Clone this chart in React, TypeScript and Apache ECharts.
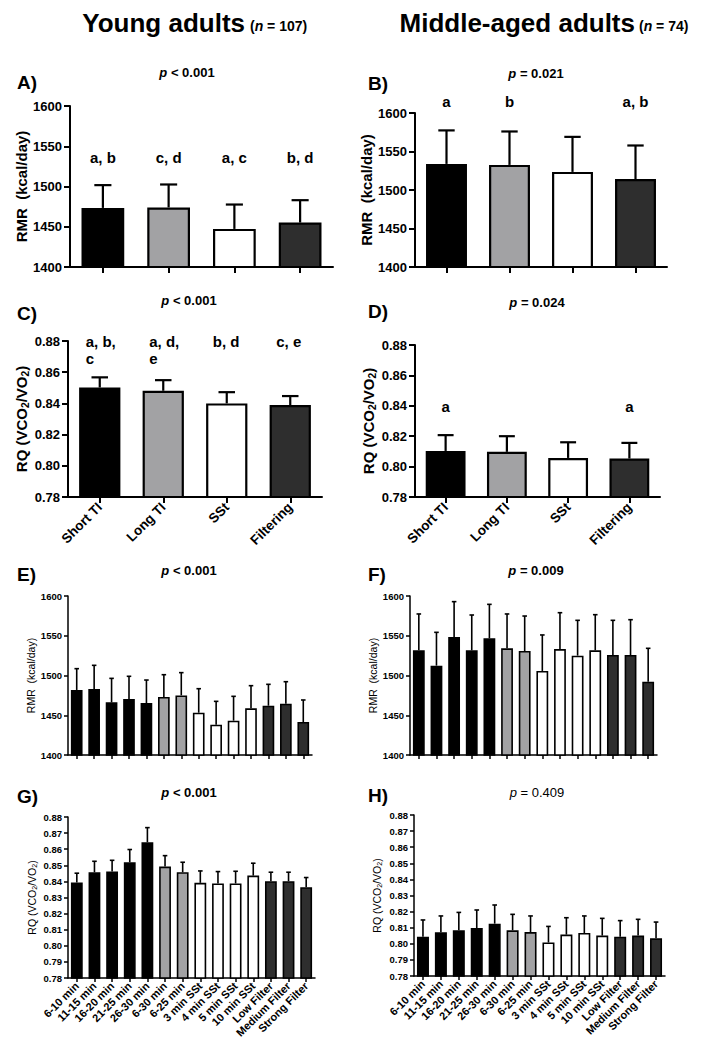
import React, { useEffect, useRef } from 'react';
import * as echarts from 'echarts';

const FONT = '"Liberation Sans", Arial, Helvetica, sans-serif';

// ---------- categories ----------
const mainCategories = ['Short TI', 'Long TI', 'SSt', 'Filtering'];
const detailCategories = [
  '6-10 min', '11-15 min', '16-20 min', '21-25 min', '26-30 min', '6-30 min', '6-25 min',
  '3 min SSt', '4 min SSt', '5 min SSt', '10 min SSt', 'Low Filter', 'Medium Filter', 'Strong Filter',
];

// ---------- A) RMR young ----------
const rmrYoungMean = [1473.4, 1474.0, 1447.3, 1455.2];
const rmrYoungSD = [28.3, 28.5, 30.3, 27.8];
// ---------- B) RMR middle-aged ----------
const rmrMiddleMean = [1533.9, 1532.6, 1523.5, 1514.3];
const rmrMiddleSD = [43.5, 43.4, 45.5, 43.5];
// ---------- C) RQ young ----------
const rqYoungMean = [0.8502, 0.8481, 0.84, 0.8389];
const rqYoungSD = [0.0065, 0.0068, 0.0072, 0.0058];
// ---------- D) RQ middle-aged ----------
const rqMiddleMean = [0.8103, 0.8097, 0.8057, 0.8053];
const rqMiddleSD = [0.0104, 0.0103, 0.0103, 0.0103];
// ---------- E) RMR young, detailed ----------
const rmrYoungDetailMean = [1481.8, 1483.0, 1466.2, 1470.4, 1465.4, 1473.0, 1475.0, 1453.2, 1438.2, 1443.2, 1458.7, 1462.0, 1464.6, 1441.5];
const rmrYoungDetailSD = [26.8, 29.8, 30.2, 28.6, 28.9, 28.0, 28.6, 30.2, 29.3, 30.6, 28.5, 26.9, 27.6, 27.7];
// ---------- F) RMR middle-aged, detailed ----------
const rmrMiddleDetailMean = [1531.7, 1512.4, 1548.4, 1531.7, 1546.8, 1534.2, 1530.8, 1505.7, 1533.3, 1525.0, 1531.7, 1525.8, 1525.8, 1492.2];
const rmrMiddleDetailSD = [45.7, 41.9, 44.5, 44.4, 42.7, 43.2, 44.0, 45.3, 45.7, 44.4, 44.8, 43.6, 44.4, 42.0];
// ---------- G) RQ young, detailed ----------
const rqYoungDetailMean = [0.8393, 0.8457, 0.8461, 0.8519, 0.8643, 0.8492, 0.8457, 0.8391, 0.8387, 0.8387, 0.8436, 0.8401, 0.8401, 0.8364];
const rqYoungDetailSD = [0.0058, 0.0068, 0.007, 0.0079, 0.0091, 0.0068, 0.0062, 0.0074, 0.0074, 0.0076, 0.0077, 0.0056, 0.0056, 0.006];
// ---------- H) RQ middle-aged, detailed ----------
const rqMiddleDetailMean = [0.8044, 0.8071, 0.8084, 0.8098, 0.8125, 0.8084, 0.8073, 0.8008, 0.8057, 0.8067, 0.8051, 0.8044, 0.8051, 0.8034];
const rqMiddleDetailSD = [0.0104, 0.0102, 0.0111, 0.0112, 0.0116, 0.0099, 0.01, 0.01, 0.0105, 0.0106, 0.0107, 0.01, 0.0101, 0.0101];

// ---------- significance letters ----------
const lettersA = ['a, b', 'c, d', 'a, c', 'b, d'];
const lettersB = ['a', 'b', '', 'a, b'];
const lettersC = ['a, b,\nc', 'a, d,\ne', 'b, d', 'c, e'];
const lettersD = ['a', '', '', 'a'];

// ---------- p values ----------
const pTexts = ['< 0.001', '= 0.021', '< 0.001', '= 0.024', '< 0.001', '= 0.009', '< 0.001', '= 0.409'];
const panelTags = ['A)', 'B)', 'C)', 'D)', 'E)', 'F)', 'G)', 'H)'];

// ---------- styles ----------
const BLACK = '#000000';
const GRAY = '#a2a2a4';
const WHITE = '#ffffff';
const DARK = '#2e2e2e';
const mainColors = [BLACK, GRAY, WHITE, DARK];
const detailColors = [BLACK, BLACK, BLACK, BLACK, BLACK, GRAY, GRAY, WHITE, WHITE, WHITE, WHITE, DARK, DARK, DARK];

const RMR_NAME = 'RMR  (kcal/day)';
const RQ_NAME = 'RQ (VCO{s|2}/VO{s|2})';

type Panel = {
  big: boolean;
  grid: { left: number; top: number; width: number; height: number };
  cats: string[];
  mean: number[];
  sd: number[];
  colors: string[];
  min: number;
  max: number;
  step: number;
  dec: number;
  yName: string;
  nameGap: number;
  xLabels: boolean;
  letters?: string[];
  letterY?: number;
  multiLine?: boolean;
  tag: [number, number];
  p: [number, number];
  pBold: boolean;
};

const panels: Panel[] = [
  { big: true, grid: { left: 70, top: 106, width: 263, height: 161 }, cats: mainCategories, mean: rmrYoungMean, sd: rmrYoungSD, colors: mainColors, min: 1400, max: 1600, step: 50, dec: 0, yName: RMR_NAME, nameGap: 37, xLabels: false, letters: lettersA, letterY: 1536.5, tag: [17, 82], p: [187, 72], pBold: true },
  { big: true, grid: { left: 415, top: 113, width: 252, height: 154 }, cats: mainCategories, mean: rmrMiddleMean, sd: rmrMiddleSD, colors: mainColors, min: 1400, max: 1600, step: 50, dec: 0, yName: RMR_NAME, nameGap: 33, xLabels: false, letters: lettersB, letterY: 1615, tag: [368, 83], p: [536, 73], pBold: true },
  { big: true, grid: { left: 68, top: 341, width: 254, height: 156 }, cats: mainCategories, mean: rqYoungMean, sd: rqYoungSD, colors: mainColors, min: 0.78, max: 0.88, step: 0.02, dec: 2, yName: RQ_NAME, nameGap: 35, xLabels: true, letters: lettersC, letterY: 0.88, multiLine: true, tag: [17, 313], p: [189, 300], pBold: true },
  { big: true, grid: { left: 415, top: 345, width: 245, height: 152 }, cats: mainCategories, mean: rqMiddleMean, sd: rqMiddleSD, colors: mainColors, min: 0.78, max: 0.88, step: 0.02, dec: 2, yName: RQ_NAME, nameGap: 33, xLabels: true, letters: lettersD, letterY: 0.8393, tag: [368, 311], p: [537, 302], pBold: true },
  { big: false, grid: { left: 68, top: 596, width: 244, height: 159 }, cats: detailCategories, mean: rmrYoungDetailMean, sd: rmrYoungDetailSD, colors: detailColors, min: 1400, max: 1600, step: 50, dec: 0, yName: RMR_NAME, nameGap: 31, xLabels: false, tag: [17, 574], p: [189, 570], pBold: true },
  { big: false, grid: { left: 410, top: 596, width: 247, height: 159 }, cats: detailCategories, mean: rmrMiddleDetailMean, sd: rmrMiddleDetailSD, colors: detailColors, min: 1400, max: 1600, step: 50, dec: 0, yName: RMR_NAME, nameGap: 30, xLabels: false, tag: [368, 574], p: [536, 570], pBold: true },
  { big: false, grid: { left: 68, top: 817, width: 247, height: 161 }, cats: detailCategories, mean: rqYoungDetailMean, sd: rqYoungDetailSD, colors: detailColors, min: 0.78, max: 0.88, step: 0.01, dec: 2, yName: RQ_NAME, nameGap: 30, xLabels: true, tag: [17, 796], p: [189, 792], pBold: true },
  { big: false, grid: { left: 414, top: 815, width: 251, height: 161 }, cats: detailCategories, mean: rqMiddleDetailMean, sd: rqMiddleDetailSD, colors: detailColors, min: 0.78, max: 0.88, step: 0.01, dec: 2, yName: RQ_NAME, nameGap: 31, xLabels: true, tag: [368, 795], p: [537, 792], pBold: false },
];

function makeErrorRender(capFrac: number, lw: number) {
  return (params: any, api: any) => {
    const idx = api.value(0);
    const p0 = api.coord([idx, api.value(1)]);
    const p1 = api.coord([idx, api.value(2)]);
    const half = api.size([1, 0])[0] * capFrac;
    return {
      type: 'group',
      children: [
        { type: 'line', shape: { x1: p0[0], y1: p0[1], x2: p1[0], y2: p1[1] }, style: { stroke: '#000', lineWidth: lw } },
        { type: 'line', shape: { x1: p1[0] - half, y1: p1[1], x2: p1[0] + half, y2: p1[1] }, style: { stroke: '#000', lineWidth: lw } },
      ],
    };
  };
}

function buildOption() {
  const grid: any[] = [];
  const xAxis: any[] = [];
  const yAxis: any[] = [];
  const series: any[] = [];
  const graphic: any[] = [];

  panels.forEach((pn, i) => {
    const lw = pn.big ? 2 : 1.5;
    const tickFont = pn.big ? 13 : 9.5;
    const nameFont = pn.big ? 15 : 10.5;
    grid.push({ ...pn.grid, containLabel: false, outerBoundsMode: 'none' });
    xAxis.push({
      gridIndex: i,
      type: 'category',
      data: pn.cats,
      axisLine: { show: true, lineStyle: { color: '#000', width: lw } },
      axisTick: { show: true, alignWithLabel: true, length: pn.big ? 6 : 4, lineStyle: { color: '#000', width: lw } },
      axisLabel: {
        show: pn.xLabels,
        interval: 0,
        rotate: 45,
        margin: pn.big ? 8 : 6,
        color: '#000',
        fontFamily: FONT,
        fontWeight: 'bold',
        fontSize: pn.big ? 13.5 : 11,
      },
      splitLine: { show: false },
    });
    yAxis.push({
      gridIndex: i,
      type: 'value',
      min: pn.min,
      max: pn.max,
      interval: pn.step,
      axisLine: { show: true, lineStyle: { color: '#000', width: lw } },
      axisTick: { show: true, length: pn.big ? 6 : 4, lineStyle: { color: '#000', width: lw } },
      axisLabel: {
        color: '#000',
        fontFamily: FONT,
        fontWeight: 'bold',
        fontSize: tickFont,
        margin: pn.big ? 8 : 6,
        formatter: (v: number) => v.toFixed(pn.dec),
      },
      splitLine: { show: false },
      name: pn.yName,
      nameLocation: 'middle',
      nameRotate: 90,
      nameGap: pn.nameGap,
      nameTextStyle: {
        color: '#000',
        fontFamily: FONT,
        fontWeight: pn.big ? 'bold' : 'normal',
        fontSize: nameFont,
        rich: {
          s: {
            color: '#000',
            fontFamily: FONT,
            fontWeight: pn.big ? 'bold' : 'normal',
            fontSize: nameFont * 0.68,
            padding: [nameFont * 0.55, 0, 0, 0],
          },
        },
      },
    });
    series.push({
      type: 'bar',
      xAxisIndex: i,
      yAxisIndex: i,
      barCategoryGap: pn.big ? '35%' : '33%',
      data: pn.mean.map((v, j) => ({ value: v, itemStyle: { color: pn.colors[j] } })),
      itemStyle: { borderColor: '#000', borderWidth: pn.big ? 2.2 : 1.6 },
      z: 3,
      silent: true,
    });
    series.push({
      type: 'custom',
      xAxisIndex: i,
      yAxisIndex: i,
      data: pn.mean.map((v, j) => [j, v, v + pn.sd[j]]),
      renderItem: makeErrorRender(0.13, pn.big ? 2.2 : 1.6),
      z: 2,
      silent: true,
    });
    if (pn.letters) {
      const letters = pn.letters;
      series.push({
        type: 'scatter',
        xAxisIndex: i,
        yAxisIndex: i,
        symbolSize: 0,
        clip: false,
        silent: true,
        itemStyle: { color: '#000', opacity: 1 },
        data: letters
          .map((t, j) => ({ value: [j, pn.letterY], txt: t }))
          .filter((d) => d.txt !== ''),
        label: {
          show: true,
          position: 'inside',
          formatter: (p: any) => p.data.txt,
          color: '#000',
          opacity: 1,
          textBorderWidth: 0,
          fontFamily: FONT,
          fontWeight: 'bold',
          fontSize: 15,
          lineHeight: 17,
          ...(pn.multiLine ? { align: 'left', verticalAlign: 'top', offset: [-14, -8] } : {}),
        },
        emphasis: { disabled: true },
        z: 5,
      });
    }
    graphic.push({
      type: 'text',
      x: pn.tag[0],
      y: pn.tag[1],
      style: { text: panelTags[i], fontFamily: FONT, fontWeight: 'bold', fontSize: 19, fill: '#000', align: 'left', verticalAlign: 'middle' },
    });
    const pw = pn.pBold ? 'bold' : 'normal';
    graphic.push({
      type: 'text',
      x: pn.p[0],
      y: pn.p[1],
      style: {
        text: '{i|p} ' + pTexts[i],
        fontFamily: FONT,
        fontWeight: pw,
        fontSize: 13,
        fill: '#000',
        align: 'center',
        verticalAlign: 'middle',
        rich: { i: { fontFamily: FONT, fontWeight: pw, fontStyle: 'italic', fontSize: 13, fill: '#000' } },
      },
    });
  });

  // column titles
  graphic.push(
    { type: 'text', x: 245, y: 23, style: { text: 'Young adults', fontFamily: FONT, fontWeight: 'bold', fontSize: 26, fill: '#000', align: 'right', verticalAlign: 'middle' } },
    { type: 'text', x: 250, y: 26, style: { text: '({i|n} = 107)', fontFamily: FONT, fontWeight: 'bold', fontSize: 14, fill: '#000', align: 'left', verticalAlign: 'middle', rich: { i: { fontFamily: FONT, fontWeight: 'bold', fontStyle: 'italic', fontSize: 14, fill: '#000' } } } },
    { type: 'text', x: 635, y: 23, style: { text: 'Middle-aged adults', fontFamily: FONT, fontWeight: 'bold', fontSize: 26, fill: '#000', align: 'right', verticalAlign: 'middle' } },
    { type: 'text', x: 639, y: 26, style: { text: '({i|n} = 74)', fontFamily: FONT, fontWeight: 'bold', fontSize: 14, fill: '#000', align: 'left', verticalAlign: 'middle', rich: { i: { fontFamily: FONT, fontWeight: 'bold', fontStyle: 'italic', fontSize: 14, fill: '#000' } } } },
  );

  return {
    animation: false,
    backgroundColor: '#ffffff',
    textStyle: { fontFamily: FONT },
    grid,
    xAxis,
    yAxis,
    series,
    graphic,
  };
}

export default function App() {
  const ref = useRef<HTMLDivElement>(null);
  useEffect(() => {
    if (!ref.current) return;
    const chart = echarts.init(ref.current, null, { renderer: 'svg' });
    chart.setOption(buildOption() as any);
    return () => chart.dispose();
  }, []);
  return (
    <div
      ref={ref}
      style={{ position: 'absolute', left: 0, top: 0, width: 713, height: 1044, background: '#fff' }}
    />
  );
}
